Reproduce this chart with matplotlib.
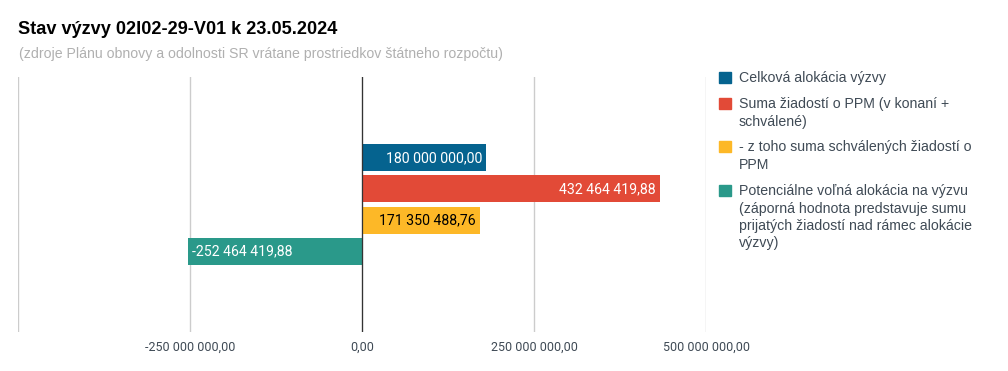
import numpy as np
import matplotlib.pyplot as plt
from matplotlib.patches import Rectangle

plt.rcParams['font.family'] = ['Roboto', 'DejaVu Sans']

# Data
title = 'Stav výzvy 02I02-29-V01 k 23.05.2024'
subtitle = '(zdroje Plánu obnovy a odolnosti SR vrátane prostriedkov štátneho rozpočtu)'
series_names = [
    'Celková alokácia výzvy',
    'Suma žiadostí o PPM (v konaní +\nschválené)',
    '- z toho suma schválených žiadostí o\nPPM',
    'Potenciálne voľná alokácia na výzvu\n(záporná hodnota predstavuje sumu\nprijatých žiadostí nad rámec alokácie\nvýzvy)',
]
values = [180000000.00, 432464419.88, 171350488.76, -252464419.88]
colors = ['#05638f', '#e24a37', '#fdb827', '#2a998a']
label_colors = ['white', 'white', 'black', 'white']
ticks = [-500000000, -250000000, 0, 250000000, 500000000]


def fmt(v):
    s = f'{abs(v):,.2f}'.replace(',', ' ').replace('.', ',')
    return ('-' if v < 0 else '') + s


W, H = 1008, 371
fig = plt.figure(figsize=(W / 100, H / 100), dpi=100)
ax = fig.add_axes([18 / W, 1 - 332 / H, 688 / W, 255 / H])

n = len(values)
offsets = np.arange(n) - (n - 1) / 2
for off, v, c, lc in zip(offsets, values, colors, label_colors):
    ax.barh(off, v, height=0.87, color=c, zorder=3)
    pad = 5500000
    if v >= 0:
        ax.text(v - pad, off, fmt(v), ha='right', va='center', color=lc, fontsize=10.2, zorder=4)
    else:
        ax.text(v + pad, off, fmt(v), ha='left', va='center', color=lc, fontsize=10.2, zorder=4)

ax.set_xlim(ticks[0], ticks[-1])
ax.set_ylim(4.11, -4.11)
ax.set_xticks(ticks)
ax.set_xticklabels(['' if t == ticks[0] else ('0,00' if t == 0 else fmt(t)) for t in ticks])
ax.set_yticks([])
ax.grid(axis='x', color='#cccccc', linewidth=1, zorder=0)
ax.axvline(0, color='#333333', linewidth=0.9, zorder=5)
ax.tick_params(axis='x', length=0, pad=6, labelsize=9, labelcolor='#3f4a55')
for sp in ax.spines.values():
    sp.set_visible(False)

fig.text(18 / W, 1 - 30 / H, title, fontsize=13.1, fontweight='bold', color='black', va='center',
         family=['Liberation Sans', 'DejaVu Sans'])
fig.text(19 / W, 1 - 54 / H, subtitle, fontsize=10.2, color='#b0b0b0', va='center',
         family=['Liberation Sans', 'DejaVu Sans'])

# Legend drawn by hand, one text line at a time
y = 77
line_h = 17.5
for name, c in zip(series_names, colors):
    fig.patches.append(Rectangle((719 / W, 1 - (y + 5.5) / H), 11.5 / W, 11 / H,
                                 transform=fig.transFigure, color=c))
    for line in name.split('\n'):
        fig.text(739 / W, 1 - (y + 5) / H, line, fontsize=10.2, color='#3f4a55',
                 va='baseline', family=['Liberation Sans', 'DejaVu Sans'])
        y += line_h
    y += 26 - line_h

plt.savefig('out.png', dpi=100)
